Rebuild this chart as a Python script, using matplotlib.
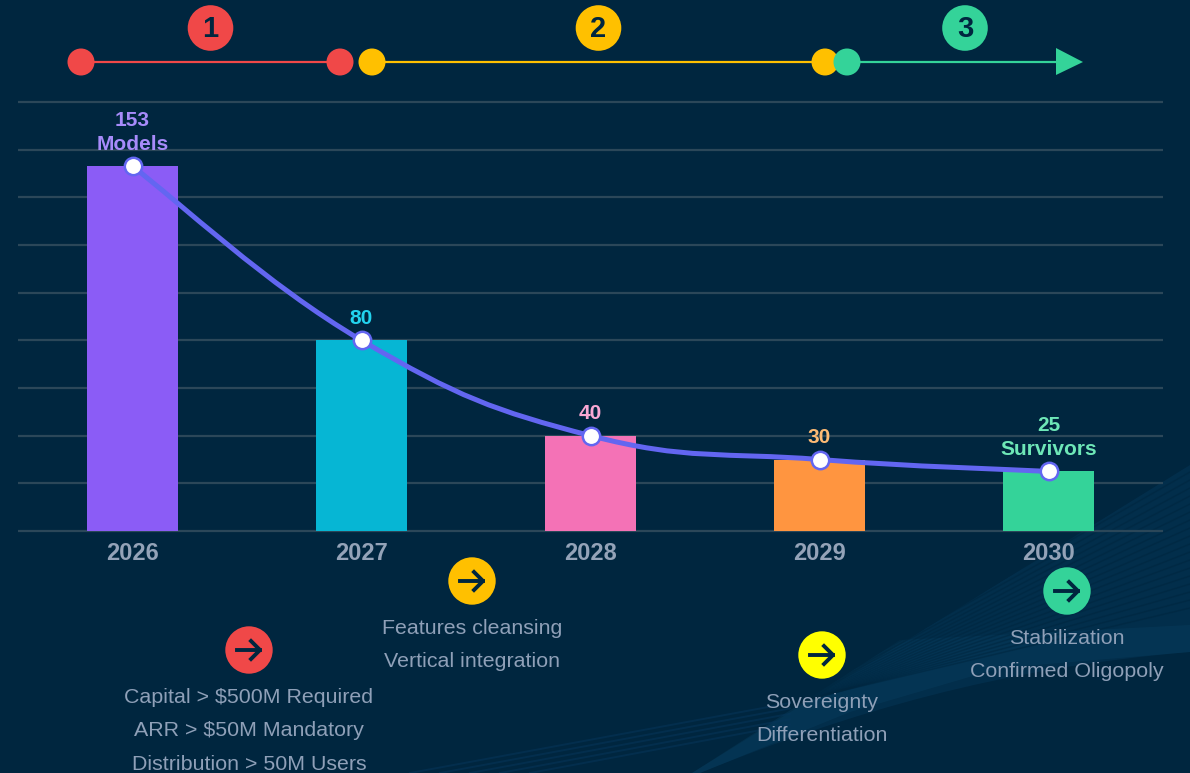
from matplotlib import pyplot as plt
from matplotlib.path import Path
from matplotlib.patches import Circle, PathPatch, Polygon
import numpy as np

plt.rcParams['font.family'] = ['Liberation Sans', 'DejaVu Sans']

years = ["2026", "2027", "2028", "2029", "2030"]
models = [153, 80, 40, 30, 25]
value_labels = ["153\nModels", "80", "40", "30", "25\nSurvivors"]
bar_colors = ["#8b5cf6", "#06b6d4", "#f472b6", "#ff9540", "#34d399"]
label_colors = ["#a78bfa", "#22d3ee", "#f9a8d4", "#fdba74", "#6ee7b7"]

# phase timeline on top, in pixels
phase_numbers = ["1", "2", "3"]
phase_colors = ["#f04848", "#ffc000", "#34d399"]
phase_badge_x = [210.5, 598.5, 965]
phase_start_x = [81, 372, 847]
phase_end_x = [340, 825, 1060]

# notes under the chart
note_texts = [
    ["Capital > $500M Required", "ARR > $50M Mandatory", "Distribution > 50M Users"],
    ["Features cleansing", "Vertical integration"],
    ["Sovereignty", "Differentiation"],
    ["Stabilization", "Confirmed Oligopoly"],
]
note_colors = ["#f04848", "#ffc000", "#ffff00", "#34d399"]
note_x = [249, 472, 822, 1067]
note_y = [650, 581, 655, 591]

bg = "#00263f"
dark = "#00263f"
W, H = 1190, 773


def smooth_path(x, y, smooth=0.42):
    # bezier through the points, tangent follows the neighbours
    x = np.array(x, dtype=float)
    y = np.array(y, dtype=float)
    verts = [(x[0], y[0])]
    codes = [Path.MOVETO]
    for i in range(len(x) - 1):
        p = max(i - 1, 0)
        n = min(i + 2, len(x) - 1)
        c1 = (x[i] + (x[i + 1] - x[p]) * smooth / 2, y[i] + (y[i + 1] - y[p]) * smooth / 2)
        c2 = (x[i + 1] - (x[n] - x[i]) * smooth / 2, y[i + 1] - (y[n] - y[i]) * smooth / 2)
        verts += [c1, c2, (x[i + 1], y[i + 1])]
        codes += [Path.CURVE4, Path.CURVE4, Path.CURVE4]
    return Path(verts, codes)


fig = plt.figure(figsize=(W / 100, H / 100), dpi=100, facecolor=bg)

# pixel layer for background, timeline and notes
bgax = fig.add_axes([0, 0, 1, 1])
bgax.set_xlim(0, W)
bgax.set_ylim(H, 0)
bgax.axis("off")

# background streaks
wedge = Path([(692, 773), (1190, 465), (1190, 652), (1000, 668), (850, 712), (700, 773)],
             [Path.MOVETO, Path.LINETO, Path.LINETO, Path.CURVE4, Path.CURVE4, Path.CURVE4])
bgax.add_patch(PathPatch(wedge, color="#06385a", alpha=.45, lw=0))
bgax.add_patch(Polygon([(692, 773), (900, 640), (1190, 625), (1190, 652), (1000, 668), (850, 712), (700, 773)],
                       closed=True, color="#0a4263", alpha=.35, lw=0))
for off in np.arange(0, 140, 8):
    bgax.plot([770 + off * .5, 1190], [712 - off * .15, 472 + off], color=bg, lw=1.1, alpha=.55)
for off in np.arange(0, 30, 6):
    bgax.plot([410 + off * 5, 790], [773, 703 + off * .9], color="#06355a", lw=1.4, alpha=.55)

ax = fig.add_axes([18 / W, 1 - 531 / H, 1145 / W, 429 / H], zorder=2)
ax.patch.set_alpha(0)
x = np.arange(len(years))
ax.set_xlim(-.5, 4.5)
ax.set_ylim(0, 180)
ax.set_yticks(np.arange(0, 181, 20))
ax.grid(axis="y", color="#2b4759", lw=1.6, clip_on=False, solid_capstyle="butt")
ax.set_axisbelow(True)
for s in ax.spines.values():
    s.set_visible(False)
ax.tick_params(length=0, labelleft=False)
ax.bar(x, models, width=.401, color=bar_colors, zorder=2)
ax.add_patch(PathPatch(smooth_path(x, models), fc="none", ec="#6366f1", lw=3.6, zorder=3, capstyle="round"))
ax.plot(x, models, "o", ms=12.5, mfc="white", mec="#6366f1", mew=1.8, zorder=4, ls="none")
for i in x:
    ax.annotate(value_labels[i], (i, models[i]), xytext=(0, 9.2), textcoords="offset points",
                ha="center", va="bottom", fontsize=15, fontweight="bold", color=label_colors[i],
                linespacing=1.3, zorder=5)
ax.set_xticks(x, years)
ax.tick_params(axis="x", pad=8, labelsize=17, labelcolor="#94a3b8")
for t in ax.get_xticklabels():
    t.set_fontweight("bold")

# timeline
for i in range(3):
    c = phase_colors[i]
    bgax.plot([phase_start_x[i], phase_end_x[i]], [62, 62], color=c, lw=1.6, zorder=3)
    bgax.add_patch(Circle((phase_start_x[i], 62), 13.5, color=c, lw=0, zorder=4 + i))
    if i < 2:
        bgax.add_patch(Circle((phase_end_x[i], 62), 13.5, color=c, lw=0, zorder=4))
    bgax.add_patch(Circle((phase_badge_x[i], 28), 22.8, color=c, lw=0, zorder=4))
    bgax.text(phase_badge_x[i], 29, phase_numbers[i], color=dark, fontsize=21, fontweight="bold",
              ha="center", va="center", zorder=5)
bgax.add_patch(Polygon([(1056, 48), (1083, 62), (1056, 75)], closed=True, color=phase_colors[2], lw=0, zorder=4))

# notes with arrow icons
for i in range(len(note_texts)):
    cx, cy = note_x[i], note_y[i]
    bgax.add_patch(Circle((cx, cy), 23.7, color=note_colors[i], lw=0, zorder=4))
    bgax.plot([cx - 12, cx + 11], [cy, cy], color=dark, lw=2.8, zorder=5)
    bgax.plot([cx + 2, cx + 11, cx + 2], [cy - 9, cy, cy + 9], color=dark, lw=2.8, zorder=5)
    for j, line in enumerate(note_texts[i]):
        bgax.text(cx, cy + 53 + j * 33.3, line, color="#8fa0b8", fontsize=15.4,
                  ha="center", va="baseline", zorder=5)

fig.savefig("out.png", dpi=100, facecolor=bg)
